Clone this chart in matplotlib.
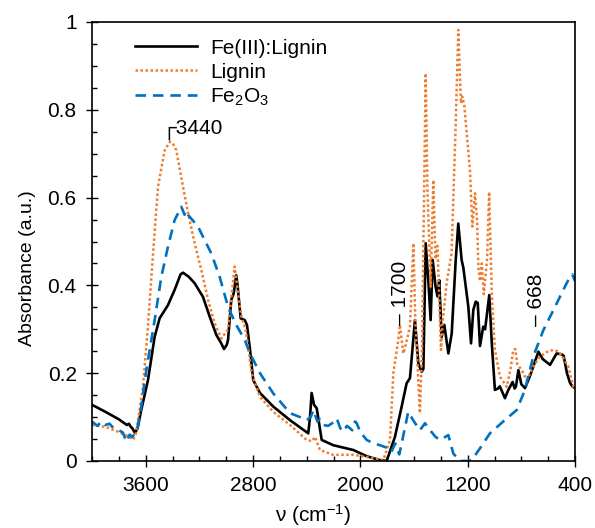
import matplotlib
matplotlib.use('Agg')
import matplotlib.pyplot as plt
from matplotlib.ticker import MultipleLocator, FuncFormatter

plt.rcParams['font.family'] = ['Liberation Sans', 'DejaVu Sans']
plt.rcParams['mathtext.fontset'] = 'custom'
plt.rcParams['mathtext.rm'] = 'Liberation Sans'
plt.rcParams['mathtext.it'] = 'Liberation Sans:italic'
plt.rcParams['font.size'] = 15

# Fe(III):Lignin complex
wn_complex = [4000, 3900, 3800, 3740, 3725, 3712, 3700, 3680, 3660, 3633, 3583, 3533,
              3496, 3434, 3384, 3340, 3322, 3280, 3235, 3173, 3123, 3073, 3040, 3016,
              2995, 2986, 2962, 2944, 2925, 2915, 2892, 2862, 2845, 2822, 2798, 2748,
              2649, 2524, 2388, 2375, 2363, 2345, 2325, 2288, 2202, 2052, 1953, 1854,
              1804, 1742, 1692, 1655, 1630, 1593, 1568, 1543, 1530, 1513, 1493, 1476,
              1461, 1439, 1425, 1412, 1394, 1374, 1344, 1319, 1289, 1270, 1245, 1232,
              1195, 1175, 1158, 1140, 1125, 1108, 1084, 1070, 1039, 1020, 997, 975,
              960, 922, 900, 865, 850, 840, 822, 800, 773, 740, 711, 673, 640, 586,
              537, 500, 485, 460, 437, 420, 400]
abs_complex = [0.128, 0.112, 0.095, 0.082, 0.085, 0.078, 0.075, 0.064, 0.075, 0.116, 0.184, 0.283,
               0.325, 0.355, 0.390, 0.425, 0.429, 0.420, 0.405, 0.374, 0.329, 0.287, 0.270, 0.255,
               0.265, 0.276, 0.367, 0.382, 0.423, 0.400, 0.325, 0.321, 0.310, 0.253, 0.184, 0.155,
               0.124, 0.093, 0.063, 0.100, 0.155, 0.128, 0.120, 0.048, 0.036, 0.025, 0.011, 0.002,
               0.000, 0.055, 0.124, 0.177, 0.189, 0.321, 0.223, 0.203, 0.210, 0.496, 0.410, 0.321,
               0.458, 0.397, 0.375, 0.412, 0.283, 0.310, 0.245, 0.290, 0.458, 0.541, 0.458, 0.440,
               0.351, 0.268, 0.344, 0.363, 0.360, 0.262, 0.306, 0.300, 0.378, 0.268, 0.162, 0.165,
               0.170, 0.143, 0.160, 0.180, 0.165, 0.170, 0.207, 0.175, 0.166, 0.190, 0.215, 0.249, 0.232, 0.219,
               0.245, 0.243, 0.240, 0.200, 0.178, 0.170, 0.166]

# Lignin
wn_lignin = [4000, 3900, 3800, 3781, 3720, 3694, 3675, 3657, 3620, 3583, 3545, 3508,
             3458, 3420, 3400, 3372, 3322, 3284, 3235, 3185, 3135, 3086, 3036, 3010,
             2986, 2962, 2937, 2915, 2887, 2856, 2847, 2810, 2748, 2649, 2524, 2400,
             2360, 2338, 2301, 2202, 2052, 1903, 1829, 1779, 1754, 1717, 1705, 1680,
             1665, 1630, 1605, 1590, 1556, 1540, 1513, 1500, 1476, 1456, 1440, 1425,
             1399, 1385, 1357, 1320, 1290, 1270, 1250, 1240, 1225, 1183, 1165, 1145,
             1130, 1120, 1108, 1095, 1080, 1055, 1040, 1020, 997, 959, 909, 880,
             860, 845, 830, 797, 760, 711, 661, 600, 562, 530, 500, 450, 413, 400]
abs_lignin = [0.082, 0.078, 0.066, 0.063, 0.055, 0.048, 0.060, 0.093, 0.169, 0.306, 0.473, 0.625,
              0.708, 0.727, 0.725, 0.708, 0.625, 0.565, 0.496, 0.435, 0.367, 0.314, 0.279, 0.290,
              0.300, 0.370, 0.443, 0.390, 0.329, 0.300, 0.283, 0.200, 0.146, 0.112, 0.082, 0.048,
              0.045, 0.055, 0.025, 0.014, 0.014, 0.007, 0.002, 0.048, 0.200, 0.276, 0.310, 0.245,
              0.260, 0.306, 0.496, 0.320, 0.109, 0.260, 0.883, 0.620, 0.397, 0.640, 0.460, 0.490,
              0.253, 0.320, 0.405, 0.473, 0.760, 0.982, 0.815, 0.830, 0.810, 0.663, 0.534, 0.610,
              0.550, 0.440, 0.410, 0.450, 0.380, 0.460, 0.613, 0.380, 0.253, 0.192, 0.169, 0.210,
              0.253, 0.255, 0.220, 0.207, 0.184, 0.215, 0.238, 0.250, 0.253, 0.250, 0.241, 0.215, 0.169, 0.165]

# Fe2O3
wn_fe2o3 = [4000, 3960, 3930, 3900, 3870, 3840, 3800, 3770, 3744, 3720, 3700, 3680,
            3660, 3633, 3595, 3533, 3483, 3434, 3384, 3334, 3310, 3300, 3285, 3210,
            3160, 3111, 3049, 2986, 2925, 2862, 2822, 2748, 2649, 2524, 2450, 2400,
            2370, 2350, 2320, 2300, 2276, 2240, 2200, 2176, 2150, 2127, 2100, 2060,
            2040, 2027, 2000, 1953, 1900, 1854, 1800, 1770, 1740, 1710, 1692, 1643,
            1600, 1556, 1518, 1480, 1440, 1406, 1344, 1307, 1257, 1200, 1170, 1108,
            1034, 935, 835, 773, 711, 636, 549, 487, 437, 420, 400]
abs_fe2o3 = [0.090, 0.080, 0.090, 0.082, 0.085, 0.075, 0.070, 0.065, 0.044, 0.060, 0.055, 0.063,
             0.075, 0.124, 0.207, 0.321, 0.420, 0.488, 0.549, 0.579, 0.561, 0.570, 0.561, 0.534,
             0.503, 0.473, 0.420, 0.351, 0.310, 0.276, 0.245, 0.200, 0.154, 0.109, 0.100, 0.093,
             0.100, 0.116, 0.090, 0.095, 0.082, 0.080, 0.088, 0.097, 0.075, 0.067, 0.080, 0.070,
             0.090, 0.086, 0.066, 0.048, 0.040, 0.036, 0.030, 0.020, 0.040, 0.015, 0.040, 0.112,
             0.090, 0.070, 0.086, 0.070, 0.055, 0.048, 0.059, 0.017, 0.000, 0.000, 0.002, 0.029,
             0.063, 0.090, 0.116, 0.162, 0.238, 0.298, 0.351, 0.390, 0.420, 0.425, 0.410]

x_ticks = [3600, 2800, 2000, 1200, 400]

fig = plt.figure(figsize=(5.95, 5.28), dpi=100)
ax = fig.add_axes([92 / 595, 1 - 461 / 528, 483 / 595, 439 / 528])

ax.plot(wn_complex, abs_complex, color='black', lw=1.9, label='Fe(III):Lignin')
ax.plot(wn_lignin, abs_lignin, color='#ED7D31', lw=1.8, dashes=(1, 1), label='Lignin')
ax.plot(wn_fe2o3, abs_fe2o3, color='#0070C0', lw=1.9, dashes=(4, 2.6), label='Fe$_2$O$_3$')

ax.set_xlim(4000, 400)
ax.set_ylim(0, 1)
ax.set_xticks(x_ticks)
ax.xaxis.set_minor_locator(MultipleLocator(200))
ax.yaxis.set_major_locator(MultipleLocator(0.2))
ax.yaxis.set_minor_locator(MultipleLocator(0.05))
ax.yaxis.set_major_formatter(FuncFormatter(lambda v, p: f'{v:g}'))
ax.tick_params(which='major', direction='inout', length=8, width=1, pad=7)
ax.tick_params(which='minor', direction='in', length=3.6, width=1)
for s in ax.spines.values():
    s.set_linewidth(1.2)

ax.set_xlabel(r'ν (cm$^{-1}$)')
ax.xaxis.set_label_coords(0.457, -0.093)
ax.set_ylabel('Absorbance (a.u.)', fontsize=14)
ax.yaxis.set_label_coords(-0.115, 0.44)

ax.legend(loc='upper left', bbox_to_anchor=(0.089, 0.962), frameon=False,
          handlelength=3, handletextpad=0.6, labelspacing=0.24,
          borderpad=0, borderaxespad=0)

ax.text(3482, 0.745, '┌3440', ha='left', va='baseline')
ax.text(1701, 0.31, '– 1700', rotation=90, ha='center', va='bottom')
ax.text(690, 0.307, '– 668', rotation=90, ha='center', va='bottom')

fig.savefig('out.png', dpi=100)
